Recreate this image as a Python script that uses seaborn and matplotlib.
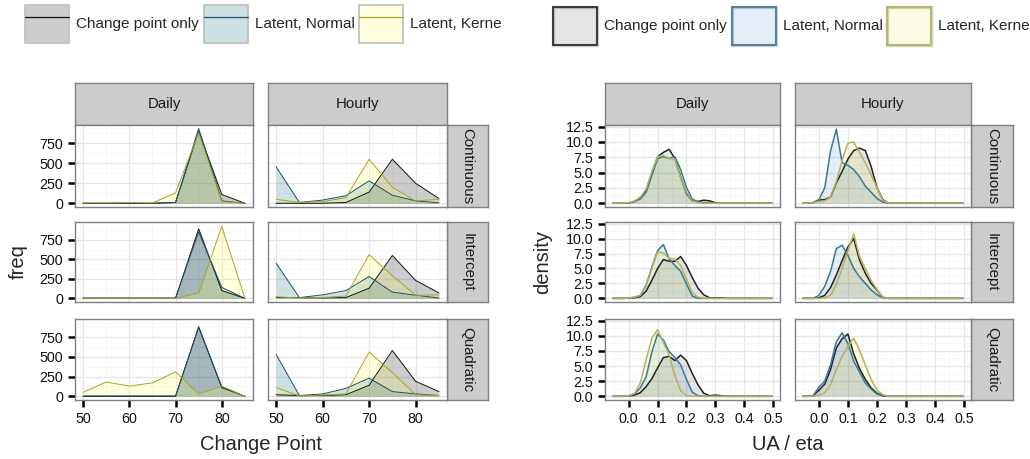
import numpy as np
import pandas as pd
import seaborn as sns
import matplotlib.pyplot as plt
from matplotlib.patches import Patch
from matplotlib.lines import Line2D
from matplotlib.legend_handler import HandlerTuple

# --- data ---
models = ["Change point only", "Latent, Normal", "Latent, Kernel"]
legend_labels = ["Change point only", "Latent, Normal", "Latent, Kerne"]
scales = ["Daily", "Hourly"]
trends = ["Continuous", "Intercept", "Quadratic"]

change_point = [50, 55, 60, 65, 70, 75, 80, 85]

# frequency polygons: one list per model, values at change_point
freq_daily_continuous = {
    "Change point only": [0, 0, 0, 0, 10, 900, 110, 0],
    "Latent, Normal": [0, 0, 0, 0, 10, 935, 30, 0],
    "Latent, Kernel": [5, 5, 10, 5, 130, 880, 20, 0],
}
freq_hourly_continuous = {
    "Change point only": [0, 0, 0, 10, 140, 550, 250, 60],
    "Latent, Normal": [455, 10, 40, 95, 280, 100, 30, 5],
    "Latent, Kernel": [50, 10, 20, 70, 550, 200, 30, 50],
}
freq_daily_intercept = {
    "Change point only": [0, 0, 0, 0, 0, 890, 100, 0],
    "Latent, Normal": [5, 5, 5, 5, 5, 850, 140, 0],
    "Latent, Kernel": [0, 0, 0, 0, 0, 70, 920, 0],
}
freq_hourly_intercept = {
    "Change point only": [10, 10, 5, 10, 130, 550, 230, 70],
    "Latent, Normal": [450, 10, 45, 100, 280, 80, 40, 5],
    "Latent, Kernel": [20, 5, 10, 30, 560, 290, 40, 45],
}
freq_daily_quadratic = {
    "Change point only": [0, 0, 0, 0, 0, 880, 110, 0],
    "Latent, Normal": [5, 5, 5, 5, 5, 870, 120, 0],
    "Latent, Kernel": [50, 180, 130, 170, 310, 30, 130, 0],
}
freq_hourly_quadratic = {
    "Change point only": [20, 10, 10, 20, 140, 580, 190, 60],
    "Latent, Normal": [530, 10, 30, 100, 230, 60, 30, 10],
    "Latent, Kernel": [110, 5, 15, 30, 560, 300, 20, 10],
}

# density curves: values at ua_eta
ua_eta = [-0.055, -0.04, -0.02, 0.0, 0.02, 0.04, 0.06, 0.08, 0.10, 0.12, 0.14,
          0.16, 0.18, 0.20, 0.22, 0.24, 0.26, 0.28, 0.30, 0.32, 0.34, 0.497]
dens_daily_continuous = {
    "Change point only": [0, 0, 0, 0.05, 0.3, 0.8, 2.0, 4.8, 7.6, 8.3, 8.8, 7.3, 4.3, 1.6, 0.4, 0.3, 0.5, 0.4, 0.1, 0, 0, 0],
    "Latent, Normal": [0, 0, 0, 0.05, 0.3, 0.7, 1.8, 4.5, 7.3, 7.6, 7.3, 7.6, 5.5, 2.6, 0.7, 0.2, 0.1, 0.05, 0, 0, 0, 0],
    "Latent, Kernel": [0, 0, 0.05, 0.1, 0.4, 1.0, 2.3, 5.2, 7.6, 7.8, 7.3, 7.2, 4.2, 1.8, 0.4, 0.1, 0, 0, 0, 0, 0, 0],
}
dens_hourly_continuous = {
    "Change point only": [0, 0, 0.1, 0.5, 0.6, 1.0, 3.3, 5.2, 7.2, 8.6, 9.0, 8.6, 6.0, 2.6, 0.6, 0, 0, 0, 0, 0, 0, 0],
    "Latent, Normal": [0, 0, 0.1, 0.6, 2.5, 8.5, 12.1, 6.6, 6.2, 5.5, 4.3, 2.8, 1.8, 0.8, 0.2, 0, 0, 0, 0, 0, 0, 0],
    "Latent, Kernel": [0, 0, 0.1, 0.3, 0.4, 1.0, 3.5, 7.0, 9.8, 10.0, 8.3, 6.6, 4.6, 2.6, 0.5, 0, 0, 0, 0, 0, 0, 0],
}
dens_daily_intercept = {
    "Change point only": [0, 0, 0, 0.05, 0.1, 0.3, 1.2, 3.0, 5.0, 6.5, 6.2, 6.2, 7.0, 5.5, 3.5, 1.7, 0.6, 0.1, 0.1, 0.1, 0, 0],
    "Latent, Normal": [0, 0, 0, 0.05, 0.2, 0.5, 2.2, 5.2, 8.0, 9.0, 6.6, 5.5, 4.5, 2.4, 0.4, 0, 0, 0, 0, 0, 0, 0],
    "Latent, Kernel": [0, 0, 0, 0.05, 0.2, 0.5, 2.0, 5.0, 7.8, 7.6, 6.7, 6.6, 5.5, 3.2, 1.0, 0.2, 0, 0, 0, 0, 0, 0],
}
dens_hourly_intercept = {
    "Change point only": [0, 0, 0, 0.1, 0.5, 1.8, 3.9, 6.3, 8.6, 10.0, 6.4, 4.2, 2.5, 1.4, 0.2, 0, 0, 0, 0, 0, 0, 0],
    "Latent, Normal": [0, 0, 0, 0.5, 2.0, 4.5, 8.3, 8.9, 7.2, 5.0, 3.6, 2.5, 1.4, 0.6, 0.1, 0, 0, 0, 0, 0, 0, 0],
    "Latent, Kernel": [0, 0, 0, 0, 0.1, 0.5, 2.3, 5.0, 8.0, 10.8, 7.0, 5.0, 3.0, 1.5, 0.2, 0, 0, 0, 0, 0, 0, 0],
}
dens_daily_quadratic = {
    "Change point only": [0, 0, 0, 0.05, 0.2, 0.6, 1.6, 2.9, 4.7, 6.4, 6.6, 5.9, 6.8, 5.9, 3.8, 1.9, 0.5, 0.1, 0.2, 0.1, 0, 0],
    "Latent, Normal": [0, 0, 0, 0.1, 0.4, 1.4, 3.2, 7.3, 10.3, 9.3, 7.4, 6.4, 5.2, 2.8, 0.7, 0.1, 0, 0, 0, 0, 0, 0],
    "Latent, Kernel": [0, 0, 0, 0.1, 0.5, 2.2, 6.0, 9.6, 11.0, 8.9, 6.8, 3.4, 0.9, 0.1, 0, 0, 0, 0, 0, 0, 0, 0],
}
dens_hourly_quadratic = {
    "Change point only": [0, 0, 0.1, 1.0, 2.0, 4.4, 8.0, 9.5, 10.3, 7.0, 4.6, 2.8, 1.4, 0.5, 0.1, 0, 0, 0, 0, 0, 0, 0],
    "Latent, Normal": [0, 0, 0.1, 1.5, 2.5, 5.2, 9.0, 10.5, 8.7, 5.8, 4.0, 2.2, 1.2, 0.4, 0.1, 0, 0, 0, 0, 0, 0, 0],
    "Latent, Kernel": [0, 0, 0, 0.2, 0.6, 1.9, 4.4, 6.6, 8.2, 9.6, 7.6, 5.2, 2.8, 1.0, 0.3, 0, 0, 0, 0, 0, 0, 0],
}

freq_tables = {
    ("Continuous", "Daily"): freq_daily_continuous, ("Continuous", "Hourly"): freq_hourly_continuous,
    ("Intercept", "Daily"): freq_daily_intercept, ("Intercept", "Hourly"): freq_hourly_intercept,
    ("Quadratic", "Daily"): freq_daily_quadratic, ("Quadratic", "Hourly"): freq_hourly_quadratic,
}
dens_tables = {
    ("Continuous", "Daily"): dens_daily_continuous, ("Continuous", "Hourly"): dens_hourly_continuous,
    ("Intercept", "Daily"): dens_daily_intercept, ("Intercept", "Hourly"): dens_hourly_intercept,
    ("Quadratic", "Daily"): dens_daily_quadratic, ("Quadratic", "Hourly"): dens_hourly_quadratic,
}


def to_long(tables, xs):
    recs = []
    for (t, s), tab in tables.items():
        for m, ys in tab.items():
            for x, y in zip(xs, ys):
                recs.append((t, s, m, x, y))
    return pd.DataFrame(recs, columns=["trend", "scale", "model", "x", "y"])


df_freq = to_long(freq_tables, change_point)
df_dens = to_long(dens_tables, ua_eta)

# --- style ---
sns.set_style("white")
plt.rcParams["font.family"] = ["Liberation Sans", "DejaVu Sans"]
plt.rcParams["xtick.direction"] = "out"
plt.rcParams["ytick.direction"] = "out"

freq_line = {"Change point only": "#111111", "Latent, Normal": "#1b4f6b", "Latent, Kernel": "#a6a625"}
freq_fill = {"Change point only": "#000000", "Latent, Normal": "#06697a", "Latent, Kernel": "#ffff55"}
dens_line = {"Change point only": "#222222", "Latent, Normal": "#3b7898", "Latent, Kernel": "#b3b35a"}
dens_fill = {"Change point only": "#000000", "Latent, Normal": "#055faf", "Latent, Kernel": "#f0f010"}

W, H = 1030, 459
fig = plt.figure(figsize=(W / 100, H / 100), dpi=100)


def add_px(x0, y0, x1, y1, **kw):
    return fig.add_axes([x0 / W, 1 - y1 / H, (x1 - x0) / W, (y1 - y0) / H], **kw)


def strip(x0, y0, x1, y1, text, rot=0):
    a = add_px(x0, y0, x1, y1, facecolor="#cccccc")
    a.set_xticks([])
    a.set_yticks([])
    for sp in a.spines.values():
        sp.set_color("#7f7f7f")
        sp.set_linewidth(1.0)
    a.text(0.5, 0.5, text, ha="center", va="center", rotation=rot,
           fontsize=10.8, color="#1a1a1a", transform=a.transAxes)


row_px = [(125, 207), (222, 302), (319, 400)]
strip_top = 83


def facet_group(df, cols, strip_x1, line_c, fill_c, alpha, lw, xlim, ylim,
                xmaj, xmin, ymaj, ymin, xfmt, yfmt, xlabel, ylabel, ylab_x):
    for j, s in enumerate(scales):
        strip(cols[j][0], strip_top, cols[j][1], row_px[0][0], s)
    for i, t in enumerate(trends):
        strip(cols[1][1], row_px[i][0], strip_x1, row_px[i][1], t, rot=-90)
        for j, s in enumerate(scales):
            ax = add_px(cols[j][0], row_px[i][0], cols[j][1], row_px[i][1])
            sub = df[(df.trend == t) & (df.scale == s)]
            for m in models:
                d = sub[sub.model == m]
                ax.fill_between(d.x, 0, d.y, color=fill_c[m], alpha=alpha, lw=0)
                sns.lineplot(x=d.x.values, y=d.y.values, color=line_c[m], lw=lw,
                             sort=False, estimator=None, ax=ax)
            ax.set_xlim(*xlim)
            ax.set_ylim(*ylim)
            ax.set_xticks(xmaj)
            ax.set_xticks(xmin, minor=True)
            ax.set_yticks(ymaj)
            ax.set_yticks(ymin, minor=True)
            ax.set_axisbelow(True)
            ax.grid(which="major", color="#e6e6e6", lw=0.9)
            ax.grid(which="minor", color="#f6f6f6", lw=0.6)
            ax.set_xlabel("")
            ax.set_ylabel("")
            for sp in ax.spines.values():
                sp.set_color("#7f7f7f")
                sp.set_linewidth(1.0)
            ax.tick_params(which="minor", length=0)
            ax.tick_params(which="major", direction="out", length=5, width=1.8, color="black",
                           labelsize=10.3, labelcolor="#111111", pad=3.5,
                           bottom=(i == 2), labelbottom=(i == 2),
                           left=(j == 0), labelleft=(j == 0))
            if j == 0:
                ax.set_yticklabels([yfmt(v) for v in ymaj])
            if i == 2:
                ax.set_xticklabels([xfmt(v) for v in xmaj])
    xc = (cols[0][0] + cols[1][1]) / 2
    fig.text(xc / W, 1 - 450 / H, xlabel, ha="center", va="baseline", fontsize=14.5)
    fig.text(ylab_x / W, 1 - 262 / H, ylabel, ha="center", va="center",
             rotation=90, fontsize=14.5)


facet_group(df_freq, [(75, 253), (268, 447)], 488, freq_line, freq_fill, 0.2, 0.7,
            (48.25, 86.75), (-46.6, 978.6),
            [50, 60, 70, 80], [55, 65, 75, 85],
            [0, 250, 500, 750], [125, 375, 625, 875],
            lambda v: f"{v:d}", lambda v: f"{v:d}", "Change Point", "freq", 18)

facet_group(df_dens, [(605, 780), (795, 971)], 1013, dens_line, dens_fill, 0.1, 1.1,
            (-0.0825, 0.5245), (-0.61, 12.77),
            [0.0, 0.1, 0.2, 0.3, 0.4, 0.5], [-0.05, 0.05, 0.15, 0.25, 0.35, 0.45],
            [0.0, 2.5, 5.0, 7.5, 10.0, 12.5], [1.25, 3.75, 6.25, 8.75, 11.25],
            lambda v: f"{v:.1f}", lambda v: f"{v:.1f}", "UA / eta", "density", 543)

# --- legends ---
freq_handles = [(Patch(facecolor=freq_fill[m], alpha=0.2, edgecolor="none"),
                 Patch(facecolor="none", edgecolor="#bdbdbd", lw=1.2),
                 Line2D([], [], color=freq_line[m], lw=0.9)) for m in models]
dens_handles = [(Patch(facecolor="white", edgecolor="#cfcfcf", lw=2.4),
                 Patch(facecolor=dens_fill[m], alpha=0.1, edgecolor="none"),
                 Patch(facecolor="none", edgecolor=dens_line[m], lw=1.2)) for m in models]

for handles, x_anchor, y_anchor in [(freq_handles, 25, 5), (dens_handles, 553, 7)]:
    fig.legend(handles, legend_labels, handler_map={tuple: HandlerTuple(ndivide=1, pad=0)},
               loc="upper left", bbox_to_anchor=(x_anchor / W, 1 - y_anchor / H), ncol=3,
               frameon=False, fontsize=11, handlelength=2.9, handleheight=3.4,
               handletextpad=0.45, columnspacing=0.3, borderpad=0, borderaxespad=0)

fig.savefig("out.png", dpi=100)
